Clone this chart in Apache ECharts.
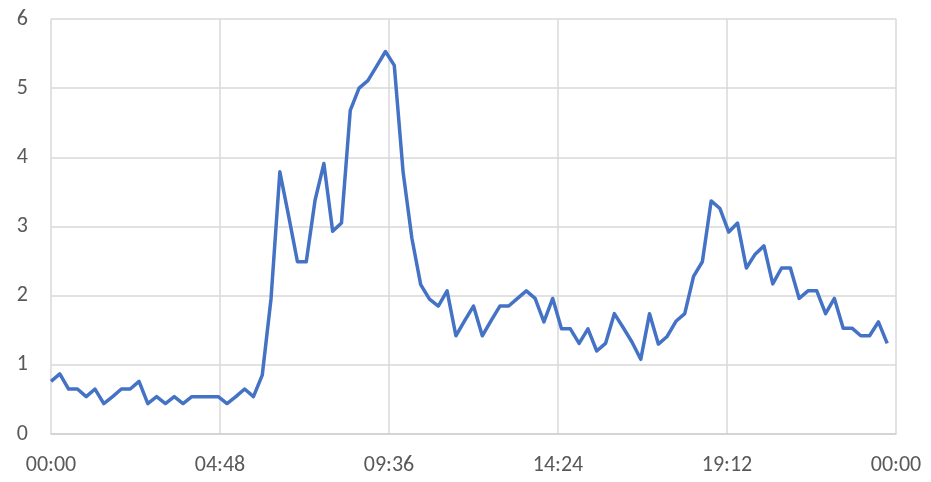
<!DOCTYPE html>
<html>
<head>
<meta charset="utf-8">
<script src="https://cdn.jsdelivr.net/npm/echarts@6/dist/echarts.min.js"></script>
<style>html,body{margin:0;padding:0;background:#fff}#c{width:931px;height:482px}</style>
</head>
<body>
<div id="c"></div>
<script>
// time step between readings, in minutes (00:00 .. 23:45)
const stepMinutes = 15;
const values = [
  0.76, 0.87, 0.65, 0.65, 0.54, 0.65, 0.44, 0.54, 0.65, 0.65,
  0.76, 0.44, 0.54, 0.44, 0.54, 0.44, 0.54, 0.54, 0.54, 0.54,
  0.44, 0.54, 0.65, 0.54, 0.85, 1.96, 3.79, 3.15, 2.49, 2.49,
  3.38, 3.91, 2.93, 3.05, 4.68, 5.00, 5.11, 5.32, 5.53, 5.33,
  3.79, 2.83, 2.16, 1.95, 1.85, 2.07, 1.42, 1.64, 1.85, 1.42,
  1.64, 1.85, 1.85, 1.96, 2.07, 1.96, 1.62, 1.96, 1.52, 1.52,
  1.31, 1.52, 1.20, 1.31, 1.74, 1.54, 1.33, 1.08, 1.74, 1.30,
  1.41, 1.63, 1.74, 2.28, 2.49, 3.37, 3.26, 2.92, 3.05, 2.40,
  2.60, 2.72, 2.17, 2.40, 2.40, 1.96, 2.07, 2.07, 1.74, 1.96,
  1.53, 1.53, 1.42, 1.42, 1.62, 1.31
];
const xTicks = ['00:00', '04:48', '09:36', '14:24', '19:12', '00:00'];
const yMin = 0, yMax = 6, yStep = 1;
const xMin = 0, xMax = 1440, xStep = 288;

const seriesData = values.map((v, i) => [i * stepMinutes, v]);
const font = 'Carlito, "Liberation Sans Narrow", "Liberation Sans", sans-serif';

const chart = echarts.init(document.getElementById('c'), null, {renderer: 'canvas'});
chart.setOption({
  animation: false,
  grid: {left: 51, right: 35, top: 19, bottom: 48, containLabel: false},
  xAxis: {
    type: 'value', min: xMin, max: xMax, interval: xStep,
    axisLine: {show: true, lineStyle: {color: '#d0d0d0', width: 1.5}},
    axisTick: {show: false},
    splitLine: {show: true, lineStyle: {color: '#d9d9d9', width: 1.5}},
    axisLabel: {
      color: '#595959', fontSize: 22, fontFamily: font, margin: 20,
      formatter: (v) => xTicks[Math.round(v / xStep)]
    }
  },
  yAxis: {
    type: 'value', min: yMin, max: yMax, interval: yStep,
    axisLine: {show: false},
    axisTick: {show: false},
    splitLine: {show: true, lineStyle: {color: '#d9d9d9', width: 1.5}},
    axisLabel: {color: '#595959', fontSize: 22, fontFamily: font, margin: 23}
  },
  series: [{
    type: 'line', data: seriesData, symbol: 'none',
    lineStyle: {color: '#4472c4', width: 3.5, join: 'round'},
    itemStyle: {color: '#4472c4'}
  }]
});
</script>
</body>
</html>
